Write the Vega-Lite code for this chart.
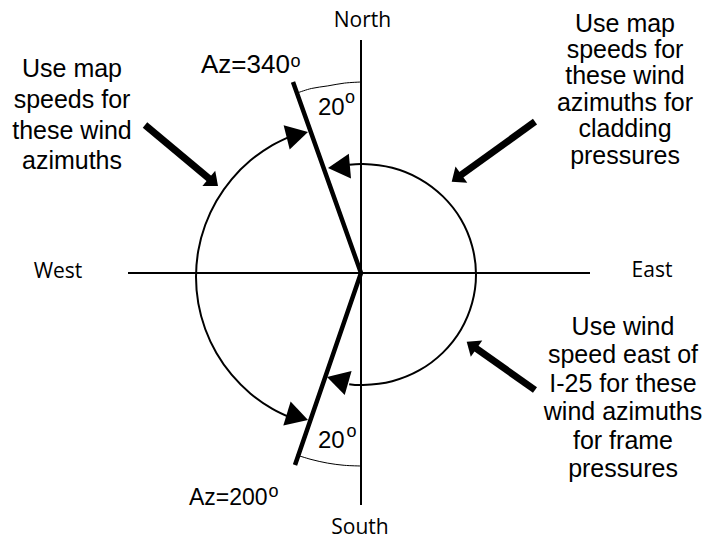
{
  "$schema": "https://vega.github.io/schema/vega-lite/v6.json",
  "width": 704,
  "height": 539,
  "padding": 0,
  "autosize": {"type": "fit", "contains": "padding"},
  "background": "white",
  "config": {"view": {"stroke": null}},
  "datasets": {
    "paths": [
      {"part": "compass", "path": "EW", "i": 0, "x": 128, "y": 273},
      {"part": "compass", "path": "EW", "i": 1, "x": 590, "y": 273},
      {"part": "compass", "path": "NS", "i": 0, "x": 361, "y": 40},
      {"part": "compass", "path": "NS", "i": 1, "x": 361, "y": 505},
      {"part": "boundary", "path": "AZ", "i": 0, "x": 293, "y": 82},
      {"part": "boundary", "path": "AZ", "i": 1, "x": 361, "y": 273},
      {"part": "boundary", "path": "AZ", "i": 2, "x": 295, "y": 465},
      {"part": "arc", "path": "west", "i": 0, "x": 291.1, "y": 136.1},
      {"part": "arc", "path": "west", "i": 1, "x": 272, "y": 145.4},
      {"part": "arc", "path": "west", "i": 2, "x": 250.3, "y": 160.6},
      {"part": "arc", "path": "west", "i": 3, "x": 231.6, "y": 179.3},
      {"part": "arc", "path": "west", "i": 4, "x": 216.4, "y": 201},
      {"part": "arc", "path": "west", "i": 5, "x": 205.2, "y": 225},
      {"part": "arc", "path": "west", "i": 6, "x": 198.3, "y": 250.6},
      {"part": "arc", "path": "west", "i": 7, "x": 196, "y": 277},
      {"part": "arc", "path": "west", "i": 8, "x": 198.3, "y": 303.4},
      {"part": "arc", "path": "west", "i": 9, "x": 205.2, "y": 329},
      {"part": "arc", "path": "west", "i": 10, "x": 216.4, "y": 353},
      {"part": "arc", "path": "west", "i": 11, "x": 231.6, "y": 374.7},
      {"part": "arc", "path": "west", "i": 12, "x": 250.3, "y": 393.4},
      {"part": "arc", "path": "west", "i": 13, "x": 272, "y": 408.6},
      {"part": "arc", "path": "west", "i": 14, "x": 291.1, "y": 417.9},
      {"part": "arc", "path": "east", "i": 0, "x": 349.2, "y": 164.8},
      {"part": "arc", "path": "east", "i": 1, "x": 363, "y": 164},
      {"part": "arc", "path": "east", "i": 2, "x": 392.2, "y": 167.8},
      {"part": "arc", "path": "east", "i": 3, "x": 419.5, "y": 178.8},
      {"part": "arc", "path": "east", "i": 4, "x": 442.9, "y": 196.4},
      {"part": "arc", "path": "east", "i": 5, "x": 460.9, "y": 219.25},
      {"part": "arc", "path": "east", "i": 6, "x": 472.1, "y": 245.9},
      {"part": "arc", "path": "east", "i": 7, "x": 476, "y": 274.5},
      {"part": "arc", "path": "east", "i": 8, "x": 472.1, "y": 303.1},
      {"part": "arc", "path": "east", "i": 9, "x": 460.9, "y": 329.75},
      {"part": "arc", "path": "east", "i": 10, "x": 442.9, "y": 352.6},
      {"part": "arc", "path": "east", "i": 11, "x": 419.5, "y": 370.2},
      {"part": "arc", "path": "east", "i": 12, "x": 392.2, "y": 381.2},
      {"part": "arc", "path": "east", "i": 13, "x": 363, "y": 385},
      {"part": "arc", "path": "east", "i": 14, "x": 349.2, "y": 384.2},
      {"part": "angle", "path": "top", "i": 0, "x": 298.8, "y": 92.4},
      {"part": "angle", "path": "top", "i": 1, "x": 311.3, "y": 88.5},
      {"part": "angle", "path": "top", "i": 2, "x": 327.8, "y": 85.9},
      {"part": "angle", "path": "top", "i": 3, "x": 344.4, "y": 83.1},
      {"part": "angle", "path": "top", "i": 4, "x": 361, "y": 82},
      {"part": "angle", "path": "bottom", "i": 0, "x": 296.6, "y": 455},
      {"part": "angle", "path": "bottom", "i": 1, "x": 311, "y": 459.4},
      {"part": "angle", "path": "bottom", "i": 2, "x": 327.5, "y": 463.1},
      {"part": "angle", "path": "bottom", "i": 3, "x": 344.2, "y": 465.3},
      {"part": "angle", "path": "bottom", "i": 4, "x": 361, "y": 466}
    ],
    "pointers": [
      {"note": "west", "x": 145, "y": 125, "x2": 210.5, "y2": 179.8},
      {"note": "cladding", "x": 535, "y": 121.7, "x2": 459.6, "y2": 176},
      {"note": "frame", "x": 535, "y": 390, "x2": 474.7, "y2": 347.4}
    ],
    "heads": [
      {"kind": "arc", "x": 308, "y": 132, "dir": 346},
      {"kind": "arc", "x": 328, "y": 168, "dir": 175},
      {"kind": "arc", "x": 308, "y": 420, "dir": 17},
      {"kind": "arc", "x": 327, "y": 377, "dir": 196},
      {"kind": "pointer", "x": 218, "y": 186, "dir": 40},
      {"kind": "pointer", "x": 451.7, "y": 181.7, "dir": 144},
      {"kind": "pointer", "x": 466.7, "y": 341.7, "dir": 215}
    ],
    "labels": [
      {"role": "note", "text": "Use map", "x": 72, "y": 77},
      {"role": "note", "text": "speeds for", "x": 72, "y": 108},
      {"role": "note", "text": "these wind", "x": 72, "y": 139},
      {"role": "note", "text": "azimuths", "x": 72, "y": 169},
      {"role": "note", "text": "Use map", "x": 625, "y": 31.5},
      {"role": "note", "text": "speeds for", "x": 625, "y": 57.5},
      {"role": "note", "text": "these wind", "x": 625, "y": 84},
      {"role": "note", "text": "azimuths for", "x": 625, "y": 110.5},
      {"role": "note", "text": "cladding", "x": 625, "y": 137},
      {"role": "note", "text": "pressures", "x": 625, "y": 163.5},
      {"role": "note", "text": "Use wind", "x": 623, "y": 335},
      {"role": "note", "text": "speed east of", "x": 623, "y": 363.4},
      {"role": "note", "text": "I-25 for these", "x": 623, "y": 391.8},
      {"role": "note", "text": "wind azimuths", "x": 623, "y": 420.2},
      {"role": "note", "text": "for frame", "x": 623, "y": 448.6},
      {"role": "note", "text": "pressures", "x": 623, "y": 477},
      {"role": "direction", "text": "North", "x": 362.5, "y": 27},
      {"role": "direction", "text": "West", "x": 58, "y": 278},
      {"role": "direction", "text": "East", "x": 652, "y": 277},
      {"role": "direction", "text": "South", "x": 360, "y": 534},
      {"role": "azimuth", "text": "Az=340", "x": 201, "y": 73},
      {"role": "angle", "text": "20", "x": 318, "y": 115},
      {"role": "angle", "text": "20", "x": 318, "y": 448.3},
      {"role": "azimuthLow", "text": "Az=200", "x": 189, "y": 505},
      {"role": "sup", "text": "o", "x": 290.5, "y": 66.5},
      {"role": "sup", "text": "o", "x": 345, "y": 103},
      {"role": "sup", "text": "o", "x": 346.5, "y": 436.7},
      {"role": "sup", "text": "o", "x": 268.5, "y": 497}
    ]
  },
  "encoding": {
    "x": {"field": "x", "type": "quantitative", "axis": null, "scale": {"domain": [0, 704], "nice": false, "zero": false}},
    "y": {"field": "y", "type": "quantitative", "axis": null, "scale": {"domain": [0, 539], "nice": false, "zero": false, "reverse": true}}
  },
  "layer": [
    {
      "data": {"name": "paths"},
      "transform": [{"filter": "datum.part === 'compass'"}],
      "mark": {"type": "line", "color": "black", "strokeWidth": 2},
      "encoding": {"detail": {"field": "path"}, "order": {"field": "i", "type": "quantitative"}}
    },
    {
      "data": {"name": "paths"},
      "transform": [{"filter": "datum.part === 'boundary'"}],
      "mark": {"type": "line", "color": "black", "strokeWidth": 4.5, "strokeJoin": "miter"},
      "encoding": {"detail": {"field": "path"}, "order": {"field": "i", "type": "quantitative"}}
    },
    {
      "data": {"name": "paths"},
      "transform": [{"filter": "datum.part === 'arc'"}],
      "mark": {"type": "line", "color": "black", "strokeWidth": 2, "interpolate": "catmull-rom"},
      "encoding": {"detail": {"field": "path"}, "order": {"field": "i", "type": "quantitative"}}
    },
    {
      "data": {"name": "paths"},
      "transform": [{"filter": "datum.part === 'angle'"}],
      "mark": {"type": "line", "color": "black", "strokeWidth": 1, "interpolate": "catmull-rom"},
      "encoding": {"detail": {"field": "path"}, "order": {"field": "i", "type": "quantitative"}}
    },
    {
      "data": {"name": "pointers"},
      "mark": {"type": "rule", "color": "black", "strokeWidth": 7},
      "encoding": {"x2": {"field": "x2"}, "y2": {"field": "y2"}}
    },
    {
      "data": {"name": "heads"},
      "transform": [{"filter": "datum.kind === 'arc'"}],
      "mark": {"type": "point", "shape": "M0,0L-1.76,-1L-1.76,1Z", "filled": true, "color": "black", "opacity": 1, "size": 625, "strokeWidth": 0},
      "encoding": {"angle": {"field": "dir", "type": "quantitative", "scale": null}}
    },
    {
      "data": {"name": "heads"},
      "transform": [{"filter": "datum.kind === 'pointer'"}],
      "mark": {"type": "point", "shape": "M0,0L-1.2,-1L-1.2,1Z", "filled": true, "color": "black", "opacity": 1, "size": 400, "strokeWidth": 0},
      "encoding": {"angle": {"field": "dir", "type": "quantitative", "scale": null}}
    },
    {
      "data": {"name": "labels"},
      "transform": [{"filter": "datum.role === 'note'"}],
      "mark": {"type": "text", "font": "Arial, Liberation Sans", "fontSize": 25, "align": "center", "baseline": "alphabetic", "color": "black"},
      "encoding": {"text": {"field": "text"}}
    },
    {
      "data": {"name": "labels"},
      "transform": [{"filter": "datum.role === 'direction'"}],
      "mark": {"type": "text", "font": "Open Sans", "fontSize": 21, "align": "center", "baseline": "alphabetic", "color": "black"},
      "encoding": {"text": {"field": "text"}}
    },
    {
      "data": {"name": "labels"},
      "transform": [{"filter": "datum.role === 'azimuth'"}],
      "mark": {"type": "text", "font": "Arial, Liberation Sans", "fontSize": 26, "align": "left", "baseline": "alphabetic", "color": "black"},
      "encoding": {"text": {"field": "text"}}
    },
    {
      "data": {"name": "labels"},
      "transform": [{"filter": "datum.role === 'angle'"}],
      "mark": {"type": "text", "font": "Arial, Liberation Sans", "fontSize": 24, "align": "left", "baseline": "alphabetic", "color": "black"},
      "encoding": {"text": {"field": "text"}}
    },
    {
      "data": {"name": "labels"},
      "transform": [{"filter": "datum.role === 'azimuthLow'"}],
      "mark": {"type": "text", "font": "Arial, Liberation Sans", "fontSize": 23, "align": "left", "baseline": "alphabetic", "color": "black"},
      "encoding": {"text": {"field": "text"}}
    },
    {
      "data": {"name": "labels"},
      "transform": [{"filter": "datum.role === 'sup'"}],
      "mark": {"type": "text", "font": "Arial, Liberation Sans", "fontSize": 18, "align": "left", "baseline": "alphabetic", "color": "black"},
      "encoding": {"text": {"field": "text"}}
    }
  ]
}
